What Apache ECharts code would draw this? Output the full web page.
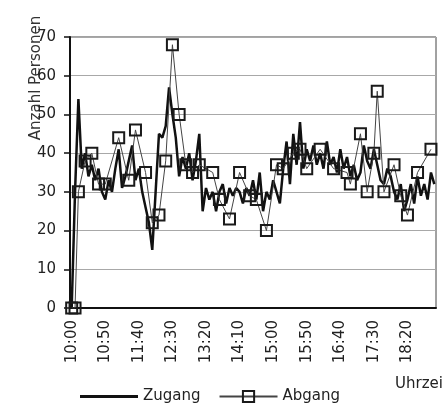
<!DOCTYPE html>
<html lang="de">
<head>
<meta charset="UTF-8">
<title>Zugang / Abgang</title>
<style>
  html, body { margin: 0; padding: 0; background: #fff; }
  #main { width: 444px; height: 407px; }
</style>
</head>
<body>
<div id="main"></div>
<script src="https://cdn.jsdelivr.net/npm/echarts@6/dist/echarts.min.js"></script>
<script>
// time of day, every 5 minutes from 10:00 to 19:00
var times = [
  '10:00','10:05','10:10','10:15','10:20','10:25','10:30','10:35','10:40','10:45','10:50','10:55',
  '11:00','11:05','11:10','11:15','11:20','11:25','11:30','11:35','11:40','11:45','11:50','11:55',
  '12:00','12:05','12:10','12:15','12:20','12:25','12:30','12:35','12:40','12:45','12:50','12:55',
  '13:00','13:05','13:10','13:15','13:20','13:25','13:30','13:35','13:40','13:45','13:50','13:55',
  '14:00','14:05','14:10','14:15','14:20','14:25','14:30','14:35','14:40','14:45','14:50','14:55',
  '15:00','15:05','15:10','15:15','15:20','15:25','15:30','15:35','15:40','15:45','15:50','15:55',
  '16:00','16:05','16:10','16:15','16:20','16:25','16:30','16:35','16:40','16:45','16:50','16:55',
  '17:00','17:05','17:10','17:15','17:20','17:25','17:30','17:35','17:40','17:45','17:50','17:55',
  '18:00','18:05','18:10','18:15','18:20','18:25','18:30','18:35','18:40','18:45','18:50','18:55',
  '19:00'
];

var zugang = [
  0, 30, 54, 36, 40, 34, 37, 33, 36, 30, 28, 33,
  30, 36, 41, 31, 34, 38, 42, 33, 36, 30, 26, 22,
  15, 30, 45, 44, 47, 57, 50, 44, 34, 39, 36, 40,
  33, 38, 45, 25, 31, 28, 30, 25, 30, 32, 27, 31,
  29, 31, 30, 27, 31, 29, 33, 28, 35, 25, 30, 28,
  33, 30, 27, 36, 43, 32, 45, 37, 48, 36, 41, 38,
  42, 37, 40, 36, 43, 37, 39, 35, 41, 36, 39, 34,
  37, 33, 35, 42, 38, 36, 41, 37, 33, 32, 36, 34,
  30, 28, 32, 25, 28, 32, 27, 34, 29, 32, 28, 35,
  32
];

// Abgang is only recorded at some of the times
var abgangTimes = [
  '10:00','10:05','10:10','10:20','10:30','10:40','10:50','11:10','11:25','11:35',
  '11:50','12:00','12:10','12:20','12:30','12:40','12:50','13:00','13:10','13:30',
  '13:40','13:55','14:10','14:25','14:35','14:50','15:05','15:15','15:30','15:40',
  '15:50','16:10','16:30','16:50','16:55','17:10','17:20','17:30','17:35','17:45',
  '18:00','18:10','18:20','18:35','18:55'
];
var abgangValues = [
  0, 0, 30, 38, 40, 32, 32, 44, 33, 46,
  35, 22, 24, 38, 68, 50, 37, 35, 37, 35,
  28, 23, 35, 29, 28, 20, 37, 36, 40, 41,
  36, 41, 36, 35, 32, 45, 30, 40, 56, 30,
  37, 29, 24, 35, 41
];

var yTicks = [0, 10, 20, 30, 40, 50, 60, 70];

var abgang = abgangTimes.map(function (t, i) {
  return [t, abgangValues[i]];
});

var font = 'DejaVu Sans';
var myChart = echarts.init(document.getElementById('main'));

var option = {
  backgroundColor: '#fff',
  animation: false,
  grid: {
    left: 70, right: 8, top: 37, bottom: 99,
    show: true,
    borderColor: '#444',
    borderWidth: 1
  },
  legend: {
    left: 80,
    top: 389,
    padding: 0,
    itemWidth: 58,
    itemHeight: 14,
    itemGap: 18,
    textStyle: { fontFamily: font, fontSize: 15, color: '#222' },
    data: [
      { name: 'Zugang', icon: 'path://M0,0 H58 V3 H0 Z', itemStyle: { color: '#111' } },
      { name: 'Abgang' }
    ]
  },
  xAxis: {
    type: 'category',
    data: times,
    boundaryGap: true,
    axisLine: { lineStyle: { color: '#111', width: 2 } },
    axisTick: { interval: 0, length: 3, lineStyle: { color: '#111', width: 1 } },
    axisLabel: {
      interval: 9,
      rotate: 90,
      margin: 12,
      fontFamily: font,
      fontSize: 15,
      color: '#222'
    },
    splitLine: { show: false }
  },
  yAxis: {
    type: 'value',
    min: yTicks[0],
    max: yTicks[yTicks.length - 1],
    interval: 10,
    axisLine: { show: true, lineStyle: { color: '#111', width: 2 } },
    axisTick: { show: true, length: 6, lineStyle: { color: '#111', width: 1.5 } },
    axisLabel: { margin: 14, fontFamily: font, fontSize: 15, color: '#222' },
    splitLine: { show: true, lineStyle: { color: '#a8a8a8', width: 1 } }
  },
  graphic: [
    {
      type: 'text',
      x: 36,
      y: 78,
      rotation: Math.PI / 2,
      style: {
        text: 'Anzahl Personen',
        fontFamily: font,
        fontSize: 15,
        fill: '#333',
        textAlign: 'center',
        textVerticalAlign: 'middle'
      }
    },
    {
      type: 'text',
      left: 395,
      top: 377,
      style: { text: 'Uhrzei', fontFamily: font, fontSize: 15, fill: '#222' }
    }
  ],
  series: [
    {
      name: 'Zugang',
      type: 'line',
      data: zugang,
      symbol: 'none',
      showSymbol: false,
      lineStyle: { color: '#111', width: 2.5 },
      itemStyle: { color: '#111' },
      z: 3
    },
    {
      name: 'Abgang',
      type: 'line',
      data: abgang,
      symbol: 'rect',
      symbolSize: 11,
      showAllSymbol: true,
      lineStyle: { color: '#444', width: 1 },
      itemStyle: { color: 'rgba(255,255,255,0)', borderColor: '#1a1a1a', borderWidth: 2 },
      z: 4
    }
  ]
};
myChart.setOption(option);
</script>
</body>
</html>
